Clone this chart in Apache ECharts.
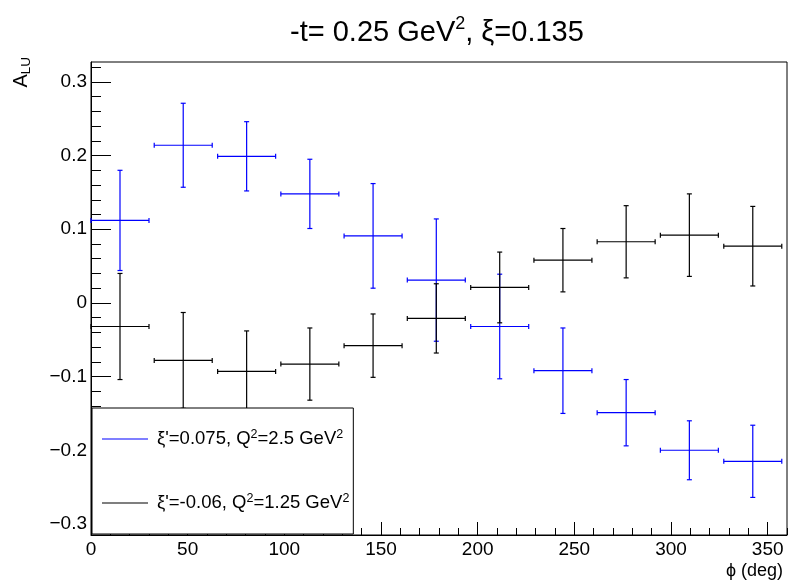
<!DOCTYPE html>
<html>
<head>
<meta charset="utf-8">
<script src="https://cdn.jsdelivr.net/npm/echarts@6.0.0/dist/echarts.min.js"></script>
<style>
  html, body { margin: 0; padding: 0; background: #fff; }
  #chart { width: 790px; height: 587px; }
</style>
</head>
<body>
<div id="chart"></div>
<script>
// Beam-spin asymmetry A_LU versus phi, two kinematic settings
const phiBins   = [15, 47.7, 80.5, 113.2, 145.9, 178.6, 211.4, 244.1, 276.8, 309.5, 342.3];
const phiHalf   = [15, 15, 15, 15, 15, 15, 15, 15, 15, 15, 15];

const aluSetA    = [0.112, 0.214, 0.199, 0.148, 0.091, 0.031, -0.032, -0.092, -0.149, -0.200, -0.215];
const aluSetAErr = [0.068, 0.057, 0.047, 0.047, 0.071, 0.083, 0.071, 0.058, 0.045, 0.040, 0.049];

const aluSetB    = [-0.032, -0.078, -0.093, -0.083, -0.058, -0.021, 0.021, 0.058, 0.083, 0.092, 0.077];
const aluSetBErr = [0.072, 0.065, 0.055, 0.049, 0.043, 0.047, 0.048, 0.043, 0.049, 0.056, 0.054];

const seriesNames = ["xi'=0.075, Q2=2.5 GeV2", "xi'=-0.06, Q2=1.25 GeV2"];
const legendTexts = [
  "ξ'=0.075, Q{sup|2}=2.5 GeV{sup|2}",
  "ξ'=-0.06, Q{sup|2}=1.25 GeV{sup|2}"
];

const xTicks = [0, 50, 100, 150, 200, 250, 300, 350];
const yTicks = [-0.3, -0.2, -0.1, 0, 0.1, 0.2, 0.3];

const X_MIN = 0, X_MAX = 360;
const Y_MIN = -0.315, Y_MAX = 0.327;
const FONT = '"Liberation Sans", Arial, Helvetica, sans-serif';

// minor tick positions: every 10 deg on x, every 0.02 on y
const xMinor = [];
for (let v = 0; v <= 360; v += 10) if (v % 50 !== 0) xMinor.push(v);
const yMinor = [];
for (let k = -15; k <= 16; k++) { if (k % 5 !== 0) yMinor.push(Math.round(k * 2) / 100); }

function toRows(xs, xe, ys, ye) {
  return xs.map((x, i) => [x, ys[i], xe[i], ye[i]]);
}

// cross-shaped error bars with small end caps
function renderErr(params, api) {
  const x = api.value(0), y = api.value(1), ex = api.value(2), ey = api.value(3);
  const c = api.coord([x, y]);
  const l = api.coord([x - ex, y]);
  const r = api.coord([x + ex, y]);
  const t = api.coord([x, y + ey]);
  const b = api.coord([x, y - ey]);
  const cap = 2.5;
  const style = { stroke: api.visual('color'), lineWidth: 1.2 };
  const seg = (x1, y1, x2, y2) => ({ type: 'line', shape: { x1, y1, x2, y2 }, style });
  return {
    type: 'group',
    children: [
      seg(l[0], c[1], r[0], c[1]),
      seg(c[0], t[1], c[0], b[1]),
      seg(l[0], c[1] - cap, l[0], c[1] + cap),
      seg(r[0], c[1] - cap, r[0], c[1] + cap),
      seg(c[0] - cap, t[1], c[0] + cap, t[1]),
      seg(c[0] - cap, b[1], c[0] + cap, b[1])
    ]
  };
}

const fmtY = v => {
  const r = Math.round(v * 10) / 10;
  if (r === 0) return '0';
  return r.toFixed(1).replace('-', '\u2212');
};

const chart = echarts.init(document.getElementById('chart'), null, { renderer: 'canvas' });

const option = {
  backgroundColor: '#ffffff',
  animation: false,
  title: {
    text: '-t= 0.25 GeV{sup|2}, ξ=0.135',
    left: 285, top: 10,
    textStyle: {
      fontFamily: FONT, fontSize: 29, fontWeight: 'normal', color: '#000',
      rich: {
        sup: { fontFamily: FONT, fontSize: 18, color: '#000', verticalAlign: 'top', lineHeight: 35 }
      }
    }
  },
  grid: {
    left: 91, right: 3, top: 62, bottom: 52,
    show: true, borderColor: '#000', borderWidth: 1, backgroundColor: 'transparent'
  },
  xAxis: [
    {
      type: 'value', min: X_MIN, max: X_MAX, position: 'bottom',
      axisLine: { show: true, onZero: false, lineStyle: { color: '#000', width: 1 } },
      axisTick: { show: true, inside: true, length: 13, customValues: xTicks, lineStyle: { color: '#000' } },
      axisLabel: { show: true, customValues: xTicks, margin: 5, color: '#000', fontSize: 19, fontFamily: FONT },
      splitLine: { show: false }
    },
    {
      type: 'value', min: X_MIN, max: X_MAX, position: 'bottom',
      axisLine: { show: false, onZero: false },
      axisTick: { show: true, inside: true, length: 7, customValues: xMinor, lineStyle: { color: '#000' } },
      axisLabel: { show: false },
      splitLine: { show: false }
    }
  ],
  yAxis: [
    {
      type: 'value', min: Y_MIN, max: Y_MAX, position: 'left',
      axisLine: { show: true, onZero: false, lineStyle: { color: '#000', width: 1 } },
      axisTick: { show: true, inside: true, length: 20, customValues: yTicks, lineStyle: { color: '#000' } },
      axisLabel: { show: true, customValues: yTicks, margin: 4, color: '#000', fontSize: 19, fontFamily: FONT, formatter: fmtY },
      splitLine: { show: false }
    },
    {
      type: 'value', min: Y_MIN, max: Y_MAX, position: 'left',
      axisLine: { show: false, onZero: false },
      axisTick: { show: true, inside: true, length: 10, customValues: yMinor, lineStyle: { color: '#000' } },
      axisLabel: { show: false },
      splitLine: { show: false }
    }
  ],
  legend: {
    orient: 'vertical',
    left: 92, top: 408,
    data: seriesNames,
    selectedMode: false,
    icon: 'rect', itemWidth: 46, itemHeight: 1.2,
    itemGap: 42,
    padding: [20, 4, 20, 10],
    backgroundColor: '#ffffff', borderColor: '#000', borderWidth: 1,
    formatter: name => legendTexts[seriesNames.indexOf(name)],
    textStyle: {
      fontFamily: FONT, fontSize: 18.5, color: '#000', lineHeight: 22, padding: [0, 0, 0, 4],
      rich: {
        sup: { fontFamily: FONT, fontSize: 12.5, color: '#000', verticalAlign: 'top', lineHeight: 12 }
      }
    }
  },
  graphic: [
    {
      type: 'text', x: 21, y: 57, rotation: Math.PI / 2, z: 10,
      style: {
        text: '{a|A}{b|LU}',
        align: 'right', verticalAlign: 'middle', fill: '#000',
        rich: {
          a: { fontFamily: FONT, fontSize: 20, color: '#000', lineHeight: 24 },
          b: { fontFamily: FONT, fontSize: 13.5, color: '#000', verticalAlign: 'bottom', lineHeight: 24 }
        }
      }
    },
    {
      type: 'text', x: 783, y: 571, z: 10,
      style: {
        text: 'ϕ (deg)', align: 'right', verticalAlign: 'middle',
        fill: '#000', fontFamily: FONT, fontSize: 18
      }
    }
  ],
  series: [
    {
      name: seriesNames[0], type: 'custom',
      xAxisIndex: 0, yAxisIndex: 0,
      itemStyle: { color: '#0000ff' },
      renderItem: renderErr,
      encode: { x: 0, y: 1 },
      data: toRows(phiBins, phiHalf, aluSetA, aluSetAErr),
      z: 2
    },
    {
      name: seriesNames[1], type: 'custom',
      xAxisIndex: 0, yAxisIndex: 0,
      itemStyle: { color: '#000000' },
      renderItem: renderErr,
      encode: { x: 0, y: 1 },
      data: toRows(phiBins, phiHalf, aluSetB, aluSetBErr),
      z: 3
    }
  ]
};

chart.setOption(option);
</script>
</body>
</html>
